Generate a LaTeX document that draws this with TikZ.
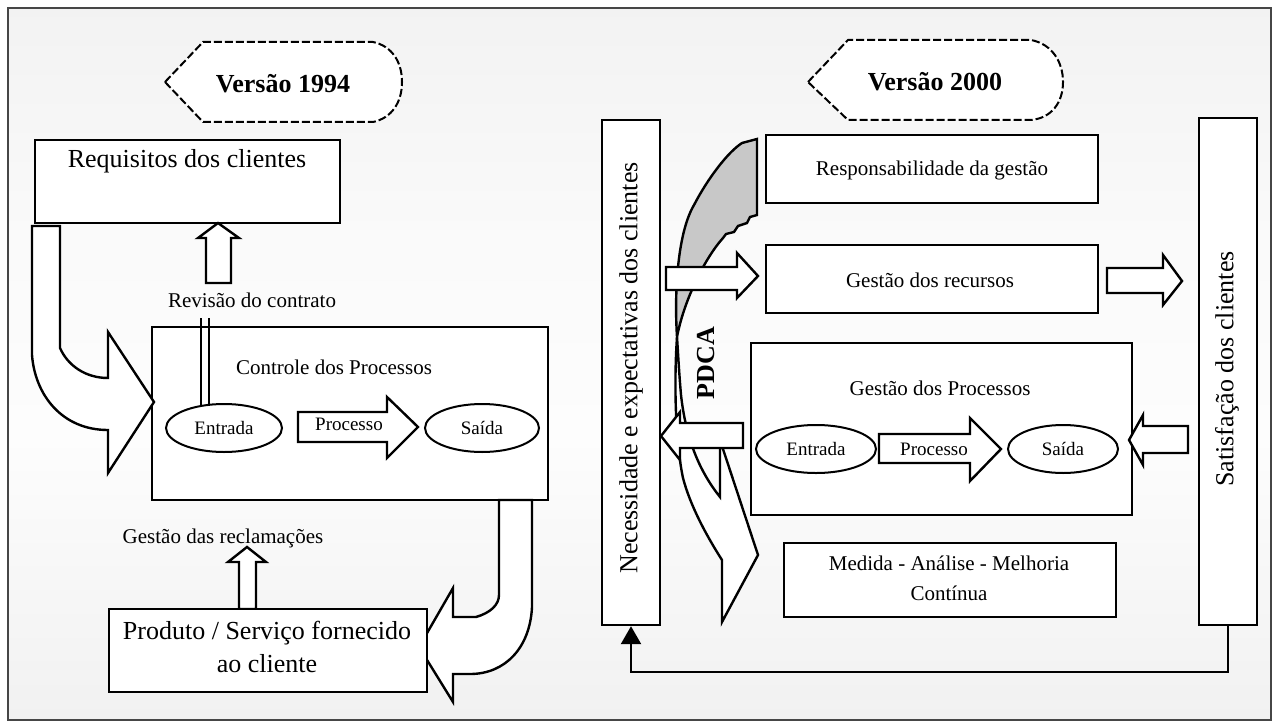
\documentclass[tikz,border=0pt]{standalone}
\usepackage{fontspec}
\setmainfont{Liberation Serif}
\usetikzlibrary{shapes.geometric,arrows.meta,fit}
\definecolor{bgtop}{RGB}{230,230,230}
\definecolor{bgmid}{RGB}{253,253,253}
\definecolor{bgbot}{RGB}{233,233,233}
\definecolor{framecol}{RGB}{70,70,70}
\definecolor{pdcagray}{RGB}{200,200,200}
\pgfdeclareverticalshading{panelshade}{100bp}{color(0bp)=(bgbot); color(20bp)=(bgbot!75!bgmid);
  color(45bp)=(bgmid); color(60bp)=(bgmid!85!bgtop); color(100bp)=(bgtop)}
\tikzset{
  box/.style={draw=black, fill=white, line width=1.2pt, inner sep=0pt},
  oval/.style={ellipse, draw=black, fill=white, line width=1pt, inner sep=0pt,
    font=\fontsize{9.5}{11}\selectfont},
  blockarrow/.style={draw=black, fill=white, line width=1.2pt, line join=miter},
  display/.style={draw=black, fill=white, line width=1pt, dash pattern=on 4pt off 1.5pt},
  lbl/.style={inner sep=0pt, font=\fontsize{10.5}{12}\selectfont},
  smalllbl/.style={inner sep=0pt, font=\fontsize{9.5}{11}\selectfont},
  biglbl/.style={inner sep=0pt, font=\fontsize{13}{16.5}\selectfont},
  boldlbl/.style={inner sep=0pt, font=\bfseries\fontsize{13}{15}\selectfont},
  feedback/.style={draw=black, line width=1.2pt, -{Triangle[width=10pt,length=9pt]}}
}
\begin{document}
\begin{tikzpicture}[x=0.5pt,y=-0.5pt]
\useasboundingbox (0,0) rectangle (1277,727);
\fill[white] (0,0) rectangle (1277,727);
\shade[shading=panelshade] (8,8) rectangle (1271,720);
\draw[framecol, line width=0.7pt] (8,8) rectangle (1271,720);

% ---------------- 1994 model ----------------
\draw[display] (165,82) -- (203,42) -- (373,42)
  .. controls (392,46) and (402,62) .. (402,82)
  .. controls (402,102) and (392,118) .. (373,122) -- (203,122) -- cycle;
\node[boldlbl] (v94) at (283,84) {Versão 1994};

\node[box, fit={(35,140) (340,223)}] (req) {};
\node[biglbl] (reqtxt) at (187,161) {Requisitos dos clientes};

% contract review arrow
\draw[blockarrow] (206,283) -- (206,238) -- (198,238) -- (218,223) -- (239,238)
  -- (231,238) -- (231,283) -- cycle;
\node[lbl] (rev) at (252,300) {Revisão do contrato};

\node[box, fit={(152,327) (548,500)}] (ctrl) {};
\node[lbl] (ctrltxt) at (334,367) {Controle dos Processos};
\draw[line width=1pt] (201,318) -- (201,408) (209,318) -- (209,408);
\node[oval, minimum width=58pt, minimum height=24pt] (ent1) at (224,428) {Entrada};
\draw[blockarrow] (298,412) -- (387,412) -- (387,397) -- (418,427) -- (387,458)
  -- (387,442) -- (298,442) -- cycle;
\node[smalllbl] (proc1txt) at (349,424) {Processo};
\node[oval, minimum width=57pt, minimum height=24pt] (sai1) at (482,428) {Saída};

% curved arrow from the requirements into process control
\draw[blockarrow] (32,226) -- (60,226) -- (60,348)
  .. controls (68,366) and (86,378) .. (108,378) -- (108,332) -- (154,402)
  -- (108,473) -- (108,430) .. controls (62,430) and (35,395) .. (32,355) -- cycle;

% curved arrow from process control to the delivered product
\draw[blockarrow] (499,500) -- (532,500) -- (532,607)
  .. controls (530,648) and (505,674) .. (470,674) -- (453,674) -- (453,702)
  -- (419,647) -- (453,588) -- (453,617) -- (476,617)
  .. controls (490,613) and (499,605) .. (499,595) -- cycle;

\node[lbl] (recl) at (223,538) {Gestão das reclamações};
\draw[blockarrow] (239,609) -- (239,562) -- (228,562) -- (247,547) -- (266,562)
  -- (256,562) -- (256,609) -- cycle;
\node[box, fit={(109,609) (427,692)}] (prod) {};
\node[biglbl, align=center] (prodtxt) at (267,647) {Produto / Serviço fornecido\\ao cliente};

% ---------------- 2000 model ----------------
\draw[display] (808,82) -- (848,40) -- (1031,40)
  .. controls (1052,44) and (1063,62) .. (1063,82)
  .. controls (1063,102) and (1052,118) .. (1031,120) -- (848,120) -- cycle;
\node[boldlbl] (v00) at (935,82) {Versão 2000};

% PDCA curved arrow: shaded back face and white front with its head
\draw[blockarrow, fill=pdcagray] (742,143) -- (757,139) -- (757,215) -- (750,217)
  -- (747,223) -- (738,226) -- (734,232) -- (726,234) -- (723,238)
  .. controls (705,258) and (684,300) .. (677,337)
  .. controls (674,290) and (678,232) .. (694,205)
  .. controls (708,178) and (728,152) .. (742,143) -- cycle;
\draw[blockarrow] (677,337) .. controls (674,380) and (675,440) .. (683,478)
  .. controls (690,505) and (706,535) .. (722,560) -- (722,622) -- (758,555)
  -- (720,440) -- (720,497)
  .. controls (700,472) and (686,440) .. (681,395)
  .. controls (679,372) and (678,352) .. (677,337) -- cycle;
\node[boldlbl, rotate=90] (pdca) at (706,363) {PDCA};

\node[box, fit={(602,120) (660,625)}] (nec) {};
\node[biglbl, rotate=90] (nectxt) at (631,368) {Necessidade e expectativas dos clientes};
\node[box, fit={(1199,118) (1257,625)}] (sat) {};
\node[biglbl, rotate=90] (sattxt) at (1227,369) {Satisfação dos clientes};

\node[box, fit={(766,135) (1098,203)}] (resp) {};
\node[lbl] (resptxt) at (932,170) {Responsabilidade da gestão};
\node[box, fit={(766,245) (1098,313)}] (rec) {};
\node[lbl] (rectxt) at (930,280) {Gestão dos recursos};

\draw[blockarrow] (666,267) -- (737,267) -- (737,253) -- (758,276) -- (737,298)
  -- (737,290) -- (666,290) -- cycle;
\draw[blockarrow] (1107,268) -- (1163,268) -- (1163,255) -- (1182,281) -- (1163,305)
  -- (1163,293) -- (1107,293) -- cycle;

\node[box, fit={(751,343) (1132,515)}] (proc) {};
\node[lbl] (proctxt) at (940,388) {Gestão dos Processos};
\node[oval, minimum width=60pt, minimum height=24pt] (ent2) at (816,449) {Entrada};
\draw[blockarrow] (879,434) -- (970,434) -- (970,418) -- (1001,449) -- (970,481)
  -- (970,463) -- (879,463) -- cycle;
\node[smalllbl] (proc2txt) at (934,449) {Processo};
\node[oval, minimum width=55pt, minimum height=24pt] (sai2) at (1063,449) {Saída};

\draw[blockarrow] (1188,426) -- (1143,426) -- (1143,415) -- (1129,440) -- (1143,465)
  -- (1143,453) -- (1188,453) -- cycle;
\draw[blockarrow] (743,423) -- (680,423) -- (680,412) -- (661,436) -- (680,460)
  -- (680,448) -- (743,448) -- cycle;

\node[box, fit={(784,543) (1116,617)}] (med) {};
\node[lbl, align=center, font=\fontsize{10.5}{15}\selectfont] (medtxt) at (949,578)
  {Medida - Análise - Melhoria\\Contínua};

\draw[feedback] (sat.south) -- ++(0,46) -| (nec.south);
\end{tikzpicture}
\end{document}
